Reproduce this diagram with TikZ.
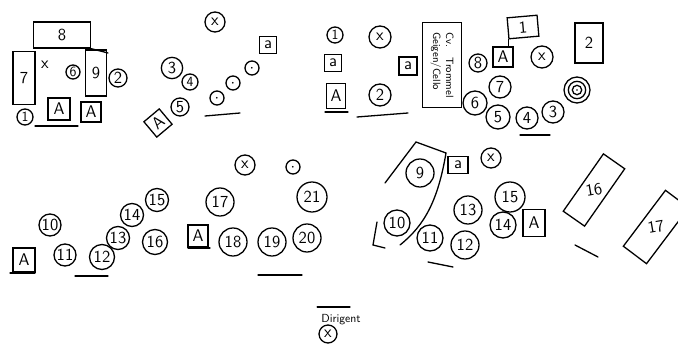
\documentclass[tikz,border=0pt]{standalone}
\usepackage{tikz}
\usetikzlibrary{positioning}
\tikzset{
  seat/.style      = {draw, line width=1.1pt, circle, inner sep=0pt,
                      minimum size=0.6cm, font=\sffamily\Large},
  smallseat/.style = {seat, minimum size=0.48cm, font=\sffamily\large},
  dotseat/.style   = {seat, minimum size=0.42cm, font=\tiny},
  stand/.style     = {draw, line width=1.1pt, rectangle, inner sep=0pt,
                      minimum size=0.6cm, font=\sffamily\Large},
  desk/.style      = {draw, line width=1.1pt, rectangle, inner sep=0pt,
                      font=\sffamily\Large},
  pen/.style       = {line width=1.1pt, line cap=round},
}

\begin{document}
\begin{tikzpicture}[x=0.03cm, y=-0.03cm]
\useasboundingbox (0,0) rectangle (678,344);
% plan 1
\node[desk, minimum width=1.71cm, minimum height=0.78cm] (p1d8) at (62,35) {8};
\coordinate (p1end) at (108,53);
\draw[pen] (p1d8.south east) -- (p1end);
\node[desk, minimum width=0.66cm, minimum height=1.59cm] (p1d7) at (24,78) {7};
\node[font=\sffamily\Large] (p1x) at (45,65) {x};
\node[smallseat, minimum size=0.42cm] (p1s6) at (73,72) {6};
\node[desk, minimum width=0.63cm, minimum height=1.38cm] (p1d9) at (96,73) {9};
\node[seat, minimum size=0.54cm] (p1s2) at (118,78) {2};
\node[smallseat] (p1s1) at (25,117) {1};
\node[stand, minimum size=0.66cm] (p1a1) at (59,109) {A};
\node[stand, minimum size=0.6cm] (p1a2) at (91,112) {A};
\draw[pen] (35,126) -- (78,126);
% plan 2
\node[seat] (p2x) at (215,22) {x};
\node[stand, minimum size=0.5cm] (p2a) at (268,45) {a};
\node[seat, minimum size=0.64cm] (p2s3) at (172,68) {3};
\node[smallseat] (p2s4) at (190,82) {4};
\node[seat, minimum size=0.54cm] (p2s5) at (180,107) {5};
\node[stand, rotate=40] (p2a2) at (158,123) {A};
\node[dotseat] (p2d1) at (217,98) {\textbullet};
\node[dotseat] (p2d2) at (233,83) {\textbullet};
\node[dotseat] (p2d3) at (252,68) {\textbullet};
\draw[pen] (205,116) -- (240,113);
% plan 3
\node[smallseat] (p3s1) at (335,35) {1};
\node[seat, minimum size=0.66cm] (p3x) at (380,37) {x};
\node[stand, minimum size=0.5cm] (p3a1) at (333,63) {a};
\node[stand, minimum size=0.54cm] (p3a2) at (408,66) {a};
\node[stand, minimum width=0.55cm, minimum height=0.75cm] (p3a3) at (336,96) {A};
\node[seat, minimum size=0.66cm] (p3s2) at (380,95) {2};
\draw[pen] (325,112) -- (348,112);
\draw[pen] (357,117) -- (408,113);
\node[desk, rotate=-90, minimum width=2.55cm, minimum height=1.17cm,
      align=left, font=\sffamily\small] (p3box) at (442,65)
      {Cv.\quad Trommel\\Geigen/Cello};
% plan 4
\node[desk, minimum width=0.9cm, minimum height=0.63cm, rotate=5] (p4d1) at (523,27) {1};
\node[stand] (p4a) at (503,57) {A};
\draw[pen] (p4d1.south west) -- (p4d1.south west |- p4a.north);
\node[seat, minimum size=0.66cm] (p4x) at (542,57) {x};
\node[desk, minimum width=0.84cm, minimum height=1.2cm] (p4d2) at (589,43) {2};
\node[seat, minimum size=0.54cm] (p4s8) at (478,63) {8};
\node[seat, minimum size=0.66cm] (p4s7) at (500,87) {7};
\node[seat, minimum size=0.72cm] (p4s6) at (475,103) {6};
\node[seat, minimum size=0.72cm] (p4s5) at (498,117) {5};
\node[seat, minimum size=0.66cm] (p4s4) at (527,118) {4};
\node[seat, minimum size=0.66cm] (p4s3) at (553,112) {3};
\node[seat, minimum size=0.78cm] (p4t1) at (577,90) {};
\node[seat, minimum size=0.52cm] (p4t2) at (p4t1) {};
\node[seat, minimum size=0.28cm] (p4t3) at (p4t1) {};
\fill (p4t1) circle[radius=0.8pt];
\draw[pen] (520,135) -- (550,135);
% plan 5
\node[stand, minimum width=0.66cm, minimum height=0.72cm] (p5a1) at (24,260) {A};
\node[seat, minimum size=0.66cm] (p5s10) at (50,225) {10};
\node[seat, minimum size=0.66cm] (p5s11) at (65,255) {11};
\node[seat, minimum size=0.75cm] (p5s12) at (102,257) {12};
\node[seat, minimum size=0.69cm] (p5s13) at (118,238) {13};
\node[seat, minimum size=0.69cm] (p5s14) at (132,215) {14};
\node[seat, minimum size=0.69cm] (p5s15) at (157,200) {15};
\node[seat, minimum size=0.75cm] (p5s16) at (155,242) {16};
\node[seat, minimum size=0.84cm] (p5s17) at (220,202) {17};
\node[stand, minimum width=0.6cm, minimum height=0.66cm] (p5a2) at (198,236) {A};
\node[seat] (p5x) at (245,165) {x};
\node[dotseat] (p5d) at (293,167) {\textbullet};
\node[seat, minimum size=0.9cm] (p5s21) at (312,197) {21};
\node[seat, minimum size=0.84cm] (p5s18) at (233,242) {18};
\node[seat, minimum size=0.84cm] (p5s19) at (272,242) {19};
\node[seat, minimum size=0.84cm] (p5s20) at (307,238) {20};
\draw[pen] (10,273) -- (35,273);
\draw[pen] (75,276) -- (108,276);
\draw[pen] (188,248) -- (210,248);
\draw[pen] (258,275) -- (302,275);
% plan 6
\draw[pen] (385,183) -- (416,142) -- (446,153)
      .. controls (438,200) and (425,225) .. (400,245);
\draw[pen] (377,222) -- (373,245) -- (385,248);
\node[seat, minimum size=0.84cm] (p6s9) at (420,173) {9};
\node[seat, minimum size=0.78cm] (p6s10) at (397,223) {10};
\node[stand, minimum width=0.6cm, minimum height=0.5cm] (p6a1) at (458,165) {a};
\node[seat] (p6x) at (491,158) {x};
\node[seat, minimum size=0.9cm] (p6s15) at (510,197) {15};
\node[seat, minimum size=0.84cm] (p6s13) at (468,210) {13};
\node[seat, minimum size=0.78cm] (p6s14) at (503,225) {14};
\node[stand, minimum width=0.66cm, minimum height=0.8cm] (p6a2) at (534,223) {A};
\node[seat, minimum size=0.78cm] (p6s11) at (430,238) {11};
\node[seat, minimum size=0.84cm] (p6s12) at (465,245) {12};
\draw[pen] (428,262) -- (453,267);
\node[desk, rotate=55, minimum width=2.1cm, minimum height=0.78cm] (p6d16) at (594,190) {};
\node[font=\sffamily\Large, rotate=10] (p6t16) at (p6d16) {16};
\draw[pen] (575,245) -- (598,257);
\node[desk, rotate=53, minimum width=2.1cm, minimum height=0.87cm] (p6d17) at (656,227) {};
\node[font=\sffamily\Large, rotate=10] (p6t17) at (p6d17) {17};
% conductor
\node[font=\sffamily] (dirtext) at (341,320) {Dirigent};
\coordinate (dirbar) at (350,307);
\draw[pen] (dirtext.north west |- dirbar) -- (dirbar);
\node[seat, minimum size=0.54cm] (dirx) at (328,334) {x};
\end{tikzpicture}
\end{document}
